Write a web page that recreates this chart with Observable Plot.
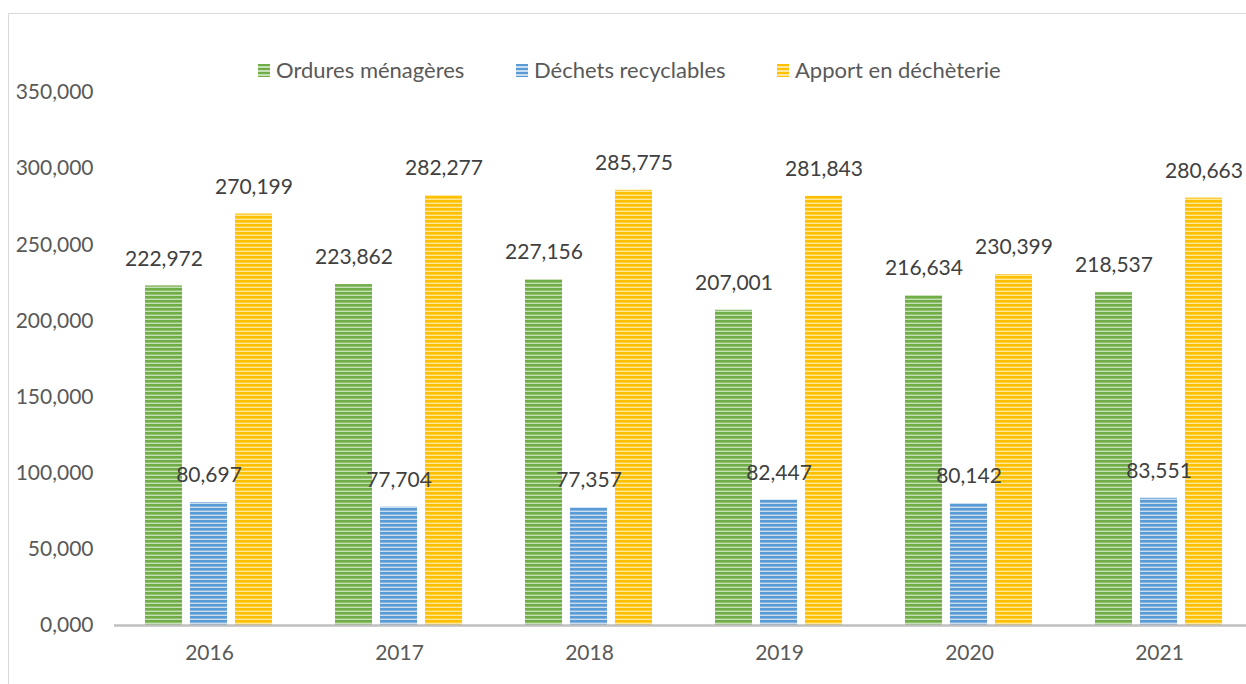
<!DOCTYPE html>
<html>
<head>
<meta charset="utf-8">
<script src="https://cdn.jsdelivr.net/npm/d3@7"></script>
<script src="https://cdn.jsdelivr.net/npm/@observablehq/plot@0.6"></script>
<style>
  html, body { margin: 0; padding: 0; overflow: hidden; background: #fff; width: 1246px; height: 684px; }
  #frame { position: absolute; left: 8px; top: 13px; width: 1400px; height: 800px; border: 1.5px solid #d9d9d9; box-sizing: border-box; }
  #chart { position: absolute; left: 0; top: 0; }
  .leg { position: absolute; top: 57px; font-family: Lato, sans-serif; font-size: 22px; color: #595959; display: flex; align-items: center; white-space: nowrap; line-height: 26px; }
  .sw { width: 12px; height: 13px; margin-right: 6px; }
</style>
</head>
<body>
<div id="frame"></div>
<div id="chart"></div>
<div id="legend"></div>
<script>
const years = ["2016", "2017", "2018", "2019", "2020", "2021"];
const series = ["Ordures ménagères", "Déchets recyclables", "Apport en déchèterie"];
const ordures = [222.972, 223.862, 227.156, 207.001, 216.634, 218.537];
const recyclables = [80.697, 77.704, 77.357, 82.447, 80.142, 83.551];
const dechetterie = [270.199, 282.277, 285.775, 281.843, 230.399, 280.663];
const yTicks = [0, 50, 100, 150, 200, 250, 300, 350];
const colors = ["#70ad47", "#5b9bd5", "#ffc000"];
const lights = ["#c5e0b4", "#c9ddf1", "#ffe699"];
const legendX = [258, 516, 777];

const fr = d3.formatLocale({decimal: ",", thousands: " ", grouping: [3], currency: ["", ""]});
const fmt = fr.format(".3f");

const values = [ordures, recyclables, dechetterie];
const data = [];
years.forEach((y, i) => series.forEach((s, j) => data.push({year: y, series: s, value: values[j][i]})));
const patIds = ["patG", "patB", "patY"];

const plot = Plot.plot({
  width: 1246,
  height: 684,
  marginTop: 92,
  marginBottom: 59,
  marginLeft: 114,
  marginRight: 0,
  style: {fontFamily: "Lato, sans-serif", fontSize: "21px", color: "#595959", background: "transparent", overflow: "visible"},
  fx: {domain: years, range: [112, 1255], paddingInner: 0, paddingOuter: 0, label: null, axis: "bottom", tickSize: 0, tickPadding: 20},
  x: {domain: series, paddingInner: 8 / 46, paddingOuter: 0.658, axis: null},
  y: {domain: [0, 350], nice: false, ticks: yTicks, tickFormat: fmt, tickSize: 0, tickPadding: 21, label: null},
  color: {domain: series, range: patIds.map(id => `url(#${id})`)},
  marks: [
    Plot.barY(data, {fx: "year", x: "series", y: "value", fill: "series"}),
    Plot.ruleY([0], {stroke: "#bfbfbf", strokeWidth: 2.5}),
    Plot.text(data, {fx: "year", x: "series", y: "value", text: d => fmt(d.value), dy: -27, fill: "#404040", fontSize: 21})
  ]
});

const defs = document.createElementNS("http://www.w3.org/2000/svg", "defs");
patIds.forEach((id, k) => {
  defs.innerHTML += `<pattern id="${id}" patternUnits="userSpaceOnUse" width="4" height="4">
    <rect x="0" y="0" width="4" height="4" fill="${colors[k]}"/>
    <rect x="0" y="2.6" width="4" height="1.4" fill="${lights[k]}"/>
  </pattern>`;
});
plot.insertBefore(defs, plot.firstChild);
document.getElementById("chart").appendChild(plot);

const leg = document.getElementById("legend");
series.forEach((s, k) => {
  const item = document.createElement("div");
  item.className = "leg";
  item.style.left = legendX[k] + "px";
  const sw = document.createElement("div");
  sw.className = "sw";
  sw.style.background = `repeating-linear-gradient(to bottom, ${colors[k]} 0px, ${colors[k]} 2.5px, ${lights[k]} 2.5px, ${lights[k]} 4px)`;
  const t = document.createElement("span");
  t.textContent = s;
  item.appendChild(sw);
  item.appendChild(t);
  leg.appendChild(item);
});
</script>
</body>
</html>
